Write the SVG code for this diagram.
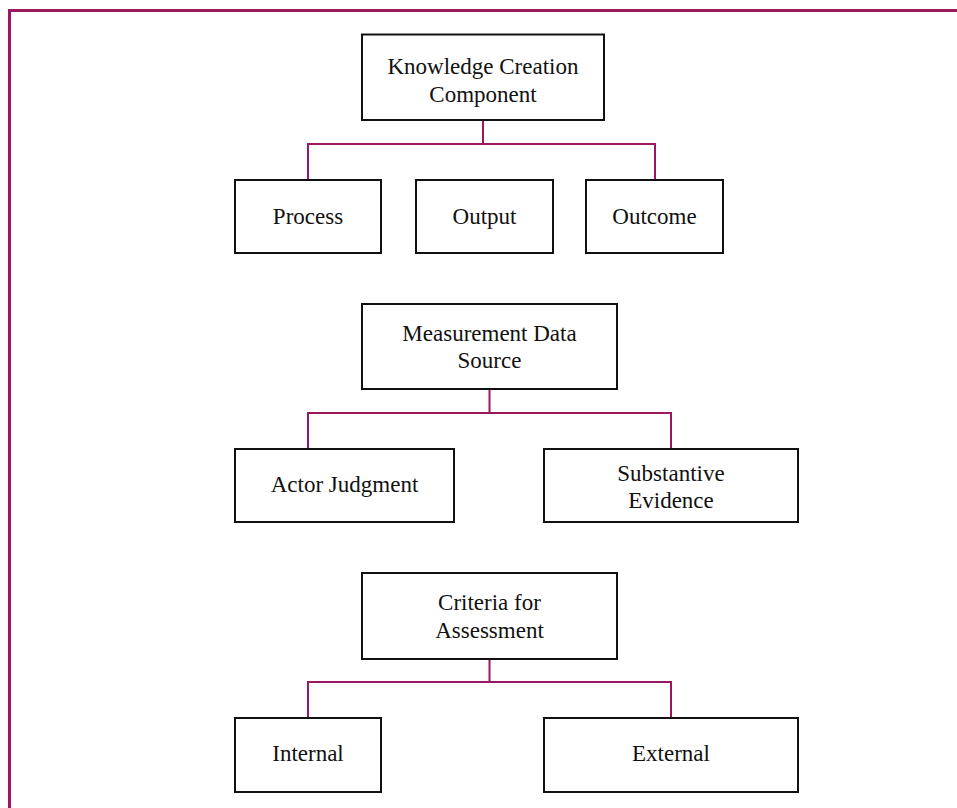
<svg xmlns="http://www.w3.org/2000/svg" width="957" height="808" viewBox="0 0 957 808">
<style>
.box{fill:#fff;stroke:#111;stroke-width:2}
.t{font-family:"Liberation Serif","Times New Roman",serif;font-size:23px;fill:#111;text-anchor:middle}
.c{fill:none;stroke:#9c1760;stroke-width:2}
</style>
<rect x="0" y="0" width="957" height="808" fill="#fff"/>
<path d="M9.5 808 V10.5 H957" fill="none" stroke="#9c1760" stroke-width="3"/>
<g id="connectors">
<path class="c" d="M483 120 V144 M308 180 V144 H655 V180 M489.5 389 V413 M308 449 V413 H671 V449 M489.5 659 V682 M308 718 V682 H671 V718"/>
</g>
<g id="n-kcc"><rect class="box" x="362" y="34.5" width="242" height="85.5"/><text class="t" x="483" y="74">Knowledge Creation</text><text class="t" x="483" y="101.5">Component</text></g>
<g id="n-process"><rect class="box" x="235" y="180" width="146" height="73"/><text class="t" x="308" y="224">Process</text></g>
<g id="n-output"><rect class="box" x="416" y="180" width="137" height="73"/><text class="t" x="484.5" y="224">Output</text></g>
<g id="n-outcome"><rect class="box" x="586" y="180" width="137" height="73"/><text class="t" x="654.5" y="224">Outcome</text></g>
<g id="n-mds"><rect class="box" x="362" y="304" width="255" height="85"/><text class="t" x="489.5" y="340.5">Measurement Data</text><text class="t" x="489.5" y="368">Source</text></g>
<g id="n-actor"><rect class="box" x="235" y="449" width="219" height="73"/><text class="t" x="344.5" y="492">Actor Judgment</text></g>
<g id="n-subst"><rect class="box" x="544" y="449" width="254" height="73"/><text class="t" x="671" y="480.5">Substantive</text><text class="t" x="671" y="507.5">Evidence</text></g>
<g id="n-cfa"><rect class="box" x="362" y="573" width="255" height="86"/><text class="t" x="489.5" y="609.5">Criteria for</text><text class="t" x="489.5" y="637.5">Assessment</text></g>
<g id="n-internal"><rect class="box" x="235" y="718" width="146" height="74"/><text class="t" x="308" y="761">Internal</text></g>
<g id="n-external"><rect class="box" x="544" y="718" width="254" height="74"/><text class="t" x="671" y="761">External</text></g>
</svg>
